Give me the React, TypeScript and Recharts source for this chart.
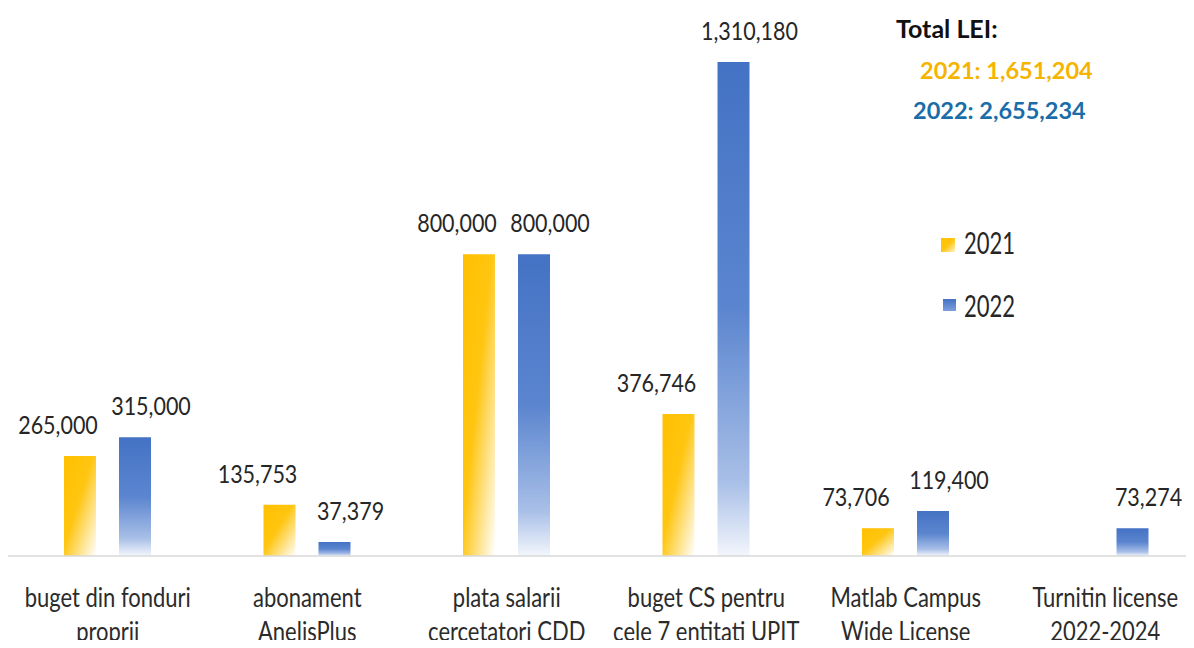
import React from 'react';
import { BarChart, Bar, XAxis, YAxis, LabelList } from 'recharts';

const categories = [
  'buget din fonduri proprii',
  'abonament AnelisPlus',
  'plata salarii cercetatori CDD',
  'buget CS pentru cele 7 entitati UPIT',
  'Matlab Campus Wide License',
  'Turnitin license 2022-2024',
];
const categoryLines = [
  ['buget din fonduri', 'proprii'],
  ['abonament', 'AnelisPlus'],
  ['plata salarii', 'cercetatori CDD'],
  ['buget CS pentru', 'cele 7 entitati UPIT'],
  ['Matlab Campus', 'Wide License'],
  ['Turnitin license', '2022-2024'],
];
const values2021 = [265000, 135753, 800000, 376746, 73706, null];
const values2022 = [315000, 37379, 800000, 1310180, 119400, 73274];
const seriesNames = ['2021', '2022'];
const totalsTitle = 'Total LEI:';
const totals = ['2021: 1,651,204', '2022: 2,655,234'];

const data = categories.map((c, i) => ({ category: c, y2021: values2021[i], y2022: values2022[i] }));

const FONT = "Lato, 'Noto Sans', sans-serif";

const fmt = (v: number) => v.toLocaleString('en-US');

const SText = (props: any) => {
  const { x, y, sy = 1, anchor = 'start', size, color = '#262626', weight = 400, children } = props;
  return (
    <text
      transform={`translate(${x},${y}) scale(1,${sy})`}
      textAnchor={anchor}
      fontFamily={FONT}
      fontSize={size}
      fontWeight={weight}
      fill={color}
    >
      {children}
    </text>
  );
};

const makeValueLabel = (shift: number) => (props: any) => {
  const { x, y, width, value } = props;
  if (value === null || value === undefined) return null;
  return (
    <SText x={x + width / 2 + shift} y={y - 22} anchor="middle" size={21.5} sy={1.2}>
      {fmt(value)}
    </SText>
  );
};
const ValueLabel2021 = makeValueLabel(-22);
const ValueLabel2022 = makeValueLabel(16);

const CategoryTick = (props: any) => {
  const { x, y, payload } = props;
  const idx = categories.indexOf(payload.value);
  const lines = categoryLines[idx] || [payload.value, ''];
  return (
    <g>
      <SText x={x} y={y + 51} anchor="middle" size={22} sy={1.2} color="#2b2b2b">{lines[0]}</SText>
      <SText x={x} y={y + 85} anchor="middle" size={22} sy={1.2} color="#2b2b2b">{lines[1]}</SText>
    </g>
  );
};

export default function App() {
  return (
    <div style={{ margin: -8, width: 1194, height: 648, overflow: 'hidden', position: 'relative', background: '#fff' }}>
      <BarChart width={1205} height={648} data={data} margin={{ top: 28, right: 0, bottom: 0, left: 8 }} barSize={32} barGap={23}>
        <defs>
          <linearGradient id="grad2021" x1="0" y1="0" x2="1" y2="1">
            <stop offset="0" stopColor="#FFC000" />
            <stop offset="0.45" stopColor="#FFC510" />
            <stop offset="1" stopColor="#FFFFFF" />
          </linearGradient>
          <linearGradient id="grad2022" x1="0" y1="0" x2="0" y2="1">
            <stop offset="0" stopColor="#4472C4" />
            <stop offset="0.5" stopColor="#5b85cf" />
            <stop offset="0.85" stopColor="#a8bfe7" />
            <stop offset="1" stopColor="#f3f6fc" />
          </linearGradient>
        </defs>
        <XAxis dataKey="category" axisLine={{ stroke: '#d9d9d9', strokeWidth: 1.5 }} tickLine={false} tickSize={0} tickMargin={0} height={92} interval={0} tick={<CategoryTick />} />
        <YAxis hide domain={[0, 1400000]} />
        <Bar dataKey="y2021" name={seriesNames[0]} fill="url(#grad2021)" isAnimationActive={false}>
          <LabelList dataKey="y2021" content={<ValueLabel2021 />} />
        </Bar>
        <Bar dataKey="y2022" name={seriesNames[1]} fill="url(#grad2022)" isAnimationActive={false}>
          <LabelList dataKey="y2022" content={<ValueLabel2022 />} />
        </Bar>
      </BarChart>
      <svg width={1194} height={340} style={{ position: 'absolute', left: 0, top: 0, pointerEvents: 'none' }}>
        <defs>
          <linearGradient id="lg2021" x1="0" y1="0" x2="1" y2="1">
            <stop offset="0" stopColor="#FFC000" />
            <stop offset="0.5" stopColor="#FFC510" />
            <stop offset="1" stopColor="#FFF3CC" />
          </linearGradient>
          <linearGradient id="lg2022" x1="0" y1="0" x2="0" y2="1">
            <stop offset="0" stopColor="#4472C4" />
            <stop offset="1" stopColor="#7f9fdc" />
          </linearGradient>
        </defs>
        <SText x={896} y={38} size={25} weight={700} color="#111">{totalsTitle}</SText>
        <SText x={920} y={79} size={23.5} weight={700} color="#F5B400">{totals[0]}</SText>
        <SText x={913} y={119} size={23.5} weight={700} color="#1A6DA8">{totals[1]}</SText>
        <rect x={941} y={238} width={14} height={14} fill="url(#lg2021)" />
        <SText x={964} y={254} size={22} sy={1.4}>{seriesNames[0]}</SText>
        <rect x={943} y={299} width={13} height={12} fill="url(#lg2022)" />
        <SText x={964} y={317} size={22} sy={1.4}>{seriesNames[1]}</SText>
      </svg>
    </div>
  );
}
